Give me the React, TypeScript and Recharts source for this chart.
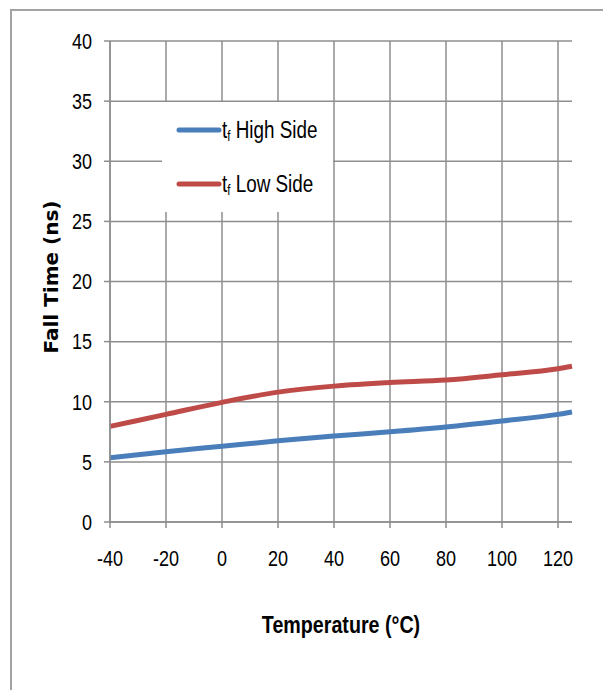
import React from "react";
import { LineChart, Line, XAxis, YAxis, CartesianGrid, Legend, Label, ReferenceLine } from "recharts";

const temperatures = [-40, -20, 0, 20, 40, 60, 80, 100, 120, 125];
const highSide = [5.35, 5.85, 6.3, 6.75, 7.15, 7.5, 7.9, 8.4, 8.95, 9.15];
const lowSide = [7.95, 8.95, 9.95, 10.8, 11.3, 11.6, 11.8, 12.25, 12.75, 12.95];
const xTicks = [-40, -20, 0, 20, 40, 60, 80, 100, 120];
const yTicks = [0, 5, 10, 15, 20, 25, 30, 35, 40];
const seriesNames = ["High Side", "Low Side"];
const seriesColors = ["#4a7ebb", "#be4b48"];

const data = temperatures.map((t, i) => ({ t, high: highSide[i], low: lowSide[i] }));

const FONT = '"Liberation Sans", Arial, sans-serif';
const NARROW = 0.82;
const GRID = "#8e8e8e";

const XTick = (props: any) => {
  const { x, y, payload } = props;
  return (
    <g transform={`translate(${x},${y})`}>
      <text transform={`scale(${NARROW},1)`} textAnchor="middle" dy="0.71em" fontFamily={FONT} fontSize={22} fill="#000">
        {payload.value}
      </text>
    </g>
  );
};

const YTick = (props: any) => {
  const { x, y, payload } = props;
  return (
    <g transform={`translate(${x},${y})`}>
      <text transform={`scale(${NARROW},1)`} textAnchor="end" dy="0.355em" fontFamily={FONT} fontSize={22} fill="#000">
        {payload.value}
      </text>
    </g>
  );
};

const renderLegend = () => (
  <div style={{ position: "absolute", left: 162, top: 102, width: 171, height: 110, background: "#fff", fontFamily: FONT, fontSize: 23, color: "#000" }}>
    {seriesNames.map((name, i) => (
      <div key={name} style={{ position: "absolute", left: 14, top: 13 + i * 54, height: 30, display: "flex", alignItems: "center", whiteSpace: "nowrap" }}>
        <svg width={46} height={10} style={{ display: "block" }}>
          <line x1={3} y1={5} x2={43} y2={5} stroke={seriesColors[i]} strokeWidth={5} strokeLinecap="round" />
        </svg>
        <span style={{ display: "inline-block", transform: `scaleX(${NARROW})`, transformOrigin: "left center" }}>
          t<sub style={{ fontSize: 14, verticalAlign: "-3px" }}>f</sub> {name}
        </span>
      </div>
    ))}
  </div>
);

const YTitle = () => (
  <text x={58} y={277} transform="rotate(-90, 58, 277)" textAnchor="middle" fontFamily='"DejaVu Sans", sans-serif' fontWeight="bold" fontSize={20} fill="#000">
    Fall Time (ns)
  </text>
);

const XTitle = () => (
  <g transform="translate(341,633)">
    <text transform={`scale(${NARROW},1)`} textAnchor="middle" fontFamily={FONT} fontWeight="bold" fontSize={24} fill="#000">
      Temperature (°C)
    </text>
  </g>
);

export default function App() {
  return (
    <div style={{ position: "absolute", left: 0, top: 0, width: 603, height: 690, background: "#fff" }}>
      <div style={{ position: "absolute", left: 10, top: 9, width: 600, height: 700, borderLeft: "2px solid #a3a3a3", borderTop: "2px solid #a3a3a3" }} />
      <LineChart width={603} height={690} data={data} margin={{ top: 41, right: 31, left: 0, bottom: 108 }} style={{ position: "absolute", left: 0, top: 0 }}>
        <CartesianGrid stroke={GRID} strokeWidth={1.5} vertical={false} />
        {xTicks.map((t) => (
          <ReferenceLine key={t} x={t} stroke={GRID} strokeWidth={1.5} ifOverflow="visible" />
        ))}
        <XAxis dataKey="t" type="number" domain={[-40, 125]} ticks={xTicks} interval={0} height={60} tickSize={6} tickMargin={22}
          axisLine={{ stroke: GRID, strokeWidth: 1.5 }} tickLine={{ stroke: GRID, strokeWidth: 1.5 }} tick={<XTick />}>
          <Label content={XTitle} />
        </XAxis>
        <YAxis type="number" domain={[0, 40]} ticks={yTicks} interval={0} width={110} tickSize={6} tickMargin={12}
          axisLine={{ stroke: GRID, strokeWidth: 1.5 }} tickLine={{ stroke: GRID, strokeWidth: 1.5 }} tick={<YTick />}>
          <Label content={YTitle} />
        </YAxis>
        <Line type="monotone" dataKey="high" name="tf High Side" stroke={seriesColors[0]} strokeWidth={5} dot={false} isAnimationActive={false} />
        <Line type="monotone" dataKey="low" name="tf Low Side" stroke={seriesColors[1]} strokeWidth={5} dot={false} isAnimationActive={false} />
        <Legend content={renderLegend} wrapperStyle={{ position: "absolute", left: 0, top: 0, width: 0, height: 0, margin: 0, padding: 0 }} />
      </LineChart>
    </div>
  );
}
